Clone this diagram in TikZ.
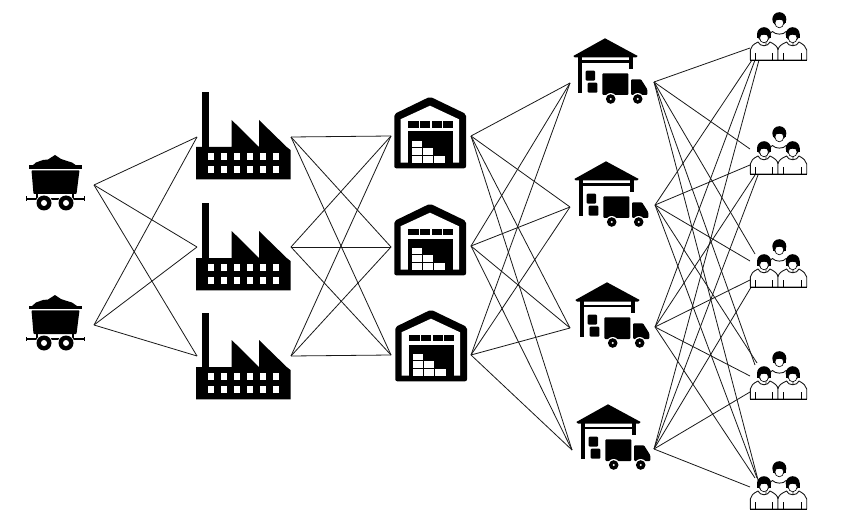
\documentclass[tikz,border=0pt]{standalone}
\tikzset{
  link/.style={draw=black!90,line width=0.8pt},
  ink/.style={fill=black,draw=none},
  paper/.style={fill=white,draw=none},
  personline/.style={draw=black!90,fill=white,line width=0.9pt,line join=round},
}
\newcommand{\cartIcon}[1]{\begin{scope}[shift={(#1)}]
  \fill[black] (32,166) -- (36,162.5) -- (43,160) -- (48,159.5) -- (55,155) -- (61,159) -- (67,161) -- (72,162.5) -- (77,166) -- cycle;
  \fill[black] (29,165.5) rectangle (82,169.3);
  \fill[black,rounded corners=0.8pt] (31.5,170.3) -- (79.5,170.3) -- (76.5,194) -- (33.5,194) -- cycle;
  \fill[black] (26,198) rectangle (85,200);
  \fill[black] (26,196.5) rectangle (27.2,201);
  \fill[black] (83.8,196.5) rectangle (85,201);
  \fill[black] (36,193) rectangle (38,199);
  \fill[black] (72,193) rectangle (74,199);
  \foreach \wx in {44,66}{
    \fill[white] (\wx,203) circle (8.3);
    \fill[black] (\wx,203) circle (7.5);
    \fill[white] (\wx,203) circle (3);
  }
\end{scope}}
\newcommand{\factoryIcon}[1]{\begin{scope}[shift={(#1)}]
  \fill[ink] (202.3,92.5) rectangle (209,147);
  \fill[ink] (196,179.3) -- (196,147) -- (231.7,147) -- (231.7,120) -- (259,147) -- (259,120) -- (286.7,147) -- (290.5,150) -- (290.5,179.3) -- cycle;
  \foreach \wi in {0,...,5}{
    \foreach \wy in {153.3,166}{
      \fill[paper] ({207.7+13*\wi},\wy) rectangle ++(6.7,6.7);
    }
  }
\end{scope}}
\newcommand{\storeIcon}[1]{\begin{scope}[shift={(#1)}]
  \fill[ink,rounded corners=2pt] (430,96.7) -- (466,114) -- (466,168.3) -- (394.3,168.3) -- (394.3,114) -- cycle;
  \fill[paper] (430,105.7) -- (459,119.3) -- (459,162.7) -- (400.5,162.7) -- (400.5,119.3) -- cycle;
  \foreach \wa/\wb in {408.3/418.6,419.9/430.2,431.5/441.8,443.1/453.3}{
    \fill[ink] (\wa,121.5) rectangle (\wb,128);
  }
  \fill[ink] (408.3,131.5) rectangle (453.3,163);
  \fill[paper] (411.7,141) rectangle (421.7,147.3);
  \fill[paper] (411.7,148.3) rectangle (421.7,155);
  \fill[paper] (422.7,148.3) rectangle (433.3,155);
  \fill[paper] (411.7,156.3) rectangle (421.7,162.7);
  \fill[paper] (422.7,156.3) rectangle (433.3,162.7);
  \fill[paper] (434.3,156.3) rectangle (445,162.7);
\end{scope}}
\newcommand{\depotIcon}[1]{\begin{scope}[shift={(#1)}]
  \fill[ink] (605,38.3) -- (637.7,56) -- (636,57.5) -- (575,57.5) -- (573.3,56) -- cycle;
  \fill[ink] (578.3,57) rectangle (581.7,92.7);
  \fill[ink] (629.3,57) rectangle (632.7,69.3);
  \fill[ink] (581,60.5) rectangle (630,62.7);
  \fill[ink,rounded corners=1pt] (585.7,70.7) rectangle (595,80.7);
  \fill[ink,rounded corners=1pt] (587.7,82.7) rectangle (597.3,92.7);
  \fill[ink,rounded corners=1pt] (602.3,73.3) rectangle (628.3,95);
  \fill[ink,rounded corners=1pt] (631,79.3) -- (641,79.3) -- (647.3,89.3) -- (647.3,95) -- (631,95) -- cycle;
  \foreach \wx in {610.7,637.7}{
    \fill[white] (\wx,99) circle (6);
    \fill[black] (\wx,99) circle (4.8);
    \fill[white] (\wx,99) circle (1.2);
  }
\end{scope}}
\newcommand{\headShape}[2]{
  \fill[black] (#1,#2-0.8) circle (7);
  \fill[black] (#1-6.8,#2-1) rectangle (#1+6.8,#2+3.5);
  \fill[white,draw=black,line width=0.6pt] (#1,#2+3) ellipse (4.4 and 4.8);
  \fill[black] (#1-4.9,#2-2.8) -- (#1+4.9,#2-2.8) -- (#1+4.6,#2+0.5) -- (#1,#2-0.3) -- (#1-4.6,#2+0.5) -- cycle;
}
\newcommand{\crowdIcon}[1]{\begin{scope}[shift={(#1)}]
  \path[personline] (766,60) -- (766,38) .. controls (768,35) and (770,33) .. (772.5,31.5)
     .. controls (775,35) and (784,35) .. (786,31.5) .. controls (789,33) and (791,35) .. (793,38) -- (793,60) -- cycle;
  \headShape{779.3}{20}
  \path[personline] (750.3,60) -- (750.3,50) .. controls (751,46.5) and (753,44.5) .. (758,42)
     .. controls (760,47) and (768,47) .. (770,42) .. controls (775,44.5) and (777.5,46.5) .. (778,50) -- (778,60) -- cycle;
  \path[personline] (778,60) -- (778,50) .. controls (778.5,46.5) and (781,44.5) .. (786.5,42)
     .. controls (788.5,47) and (797,47) .. (799,42) .. controls (803.5,44.5) and (806,46.5) .. (806.7,50) -- (806.7,60) -- cycle;
  \draw[black,line width=0.7pt] (755,53) -- (755,60) (772.5,53) -- (772.5,60) (783.5,53) -- (783.5,60) (801,53) -- (801,60);
  \draw[black,line width=1pt] (750,60.5) -- (807,60.5);
  \headShape{764}{35}
  \headShape{792.7}{35}
\end{scope}}
\begin{document}
\begin{tikzpicture}[x=1pt,y=-1pt]
\useasboundingbox[fill=white] (0,0) rectangle (850,521);
% anchors
\coordinate (s1) at (94,185); \coordinate (s2) at (94,325);
\coordinate (fa1) at (197,137); \coordinate (fa2) at (197,247); \coordinate (fa3) at (197,356);
\coordinate (fb1) at (291,137); \coordinate (fb2) at (291,247); \coordinate (fb3) at (291,356);
\coordinate (wa1) at (391,136); \coordinate (wa2) at (391,247); \coordinate (wa3) at (391,355);
\coordinate (wb1) at (471,136); \coordinate (wb2) at (471,246); \coordinate (wb3) at (471,355);
\coordinate (da1) at (570,83); \coordinate (da2) at (570,207); \coordinate (da3) at (570,328); \coordinate (da4) at (572,450);
\coordinate (db1) at (654,82); \coordinate (db2) at (655,205); \coordinate (db3) at (655,327); \coordinate (db4) at (654,449);
\coordinate (p1d1) at (750,48); \coordinate (p1d2) at (752,60); \coordinate (p1d3) at (755,60); \coordinate (p1d4) at (759,60);
\coordinate (p2d1) at (750,149); \coordinate (p2d2) at (750,165); \coordinate (p2d3) at (755,175); \coordinate (p2d4) at (758,175);
\coordinate (p3d1) at (755,254); \coordinate (p3d2) at (750,261); \coordinate (p3d3) at (750,280); \coordinate (p3d4) at (753,284);
\coordinate (p4d1) at (755,365); \coordinate (p4d2) at (757,363); \coordinate (p4d3) at (750,376); \coordinate (p4d4) at (750,392);
\coordinate (p5d1) at (758,480); \coordinate (p5d2) at (757,478); \coordinate (p5d3) at (755,478); \coordinate (p5d4) at (750,487);
% connectors
\foreach \i in {1,2}\foreach \j in {1,2,3}{\draw[link] (s\i) -- (fa\j);}
\foreach \i in {1,2,3}\foreach \j in {1,2,3}{\draw[link] (fb\i) -- (wa\j);}
\foreach \i in {1,2,3}\foreach \j in {1,2,3,4}{\draw[link] (wb\i) -- (da\j);}
\foreach \i in {1,2,3,4}\foreach \j in {1,...,5}{\draw[link] (db\i) -- (p\j d\i);}
% icons
\cartIcon{0,0}
\cartIcon{0,140}
\factoryIcon{0,0}
\factoryIcon{0,111}
\factoryIcon{0,220}
\storeIcon{0,0}
\storeIcon{0,107}
\storeIcon{1,213}
\depotIcon{0,0}
\depotIcon{1,123}
\depotIcon{2,244}
\depotIcon{3,366}
\crowdIcon{0,0}
\crowdIcon{0,114}
\crowdIcon{0,227}
\crowdIcon{0,339}
\crowdIcon{0,449}
\end{tikzpicture}
\end{document}
